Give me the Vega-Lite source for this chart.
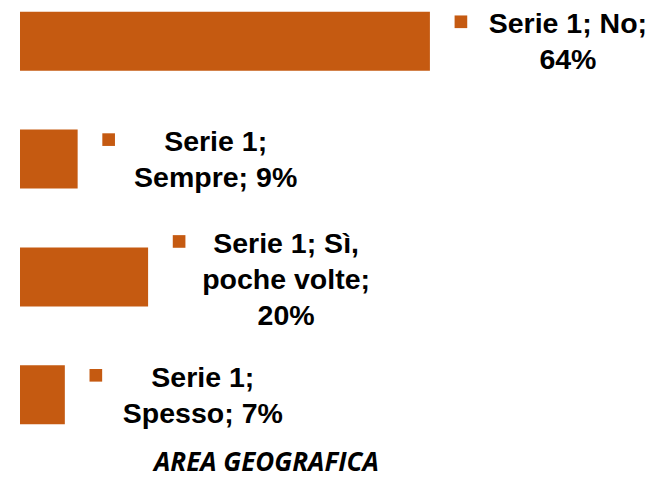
{
  "$schema": "https://vega.github.io/schema/vega-lite/v6.json",
  "width": 636,
  "height": 436,
  "autosize": {"type": "none"},
  "padding": {"left": 20, "top": 0, "right": 0, "bottom": 45},
  "background": "white",
  "view": {"stroke": null},
  "title": {
    "text": "AREA GEOGRAFICA",
    "orient": "bottom",
    "anchor": "start",
    "dx": 134,
    "offset": 14,
    "font": "Open Sans",
    "fontSize": 26,
    "fontWeight": "bold",
    "fontStyle": "italic",
    "color": "black"
  },
  "data": {
    "values": [
      {"cat": "No", "value": 64, "label": "Serie 1; No;\n64%"},
      {"cat": "Sempre", "value": 9, "label": "Serie 1;\nSempre; 9%"},
      {"cat": "Sì, poche volte", "value": 20, "label": "Serie 1; Sì,\npoche volte;\n20%"},
      {"cat": "Spesso", "value": 7, "label": "Serie 1;\nSpesso; 7%"}
    ]
  },
  "encoding": {
    "y": {
      "field": "cat",
      "type": "nominal",
      "sort": ["No", "Sempre", "Sì, poche volte", "Spesso"],
      "scale": {"paddingInner": 0.5, "paddingOuter": 0.1},
      "axis": null
    },
    "x": {
      "field": "value",
      "type": "quantitative",
      "scale": {"domain": [0, 99.3], "nice": false},
      "axis": null
    }
  },
  "layer": [
    {"mark": {"type": "bar", "color": "#C55A11"}},
    {
      "transform": [{"filter": "datum.cat != 'Sì, poche volte'"}],
      "mark": {
        "type": "text",
        "dx": 138,
        "dy": -17,
        "align": "center",
        "baseline": "middle",
        "lineBreak": "\n",
        "lineHeight": 36,
        "font": "Liberation Sans",
        "fontSize": 28.5,
        "fontWeight": "bold",
        "color": "black"
      },
      "encoding": {"text": {"field": "label"}}
    },
    {
      "transform": [{"filter": "datum.cat == 'Sì, poche volte'"}],
      "mark": {
        "type": "text",
        "dx": 138,
        "dy": -33,
        "align": "center",
        "baseline": "middle",
        "lineBreak": "\n",
        "lineHeight": 36,
        "font": "Liberation Sans",
        "fontSize": 28.5,
        "fontWeight": "bold",
        "color": "black"
      },
      "encoding": {"text": {"field": "label"}}
    },
    {
      "transform": [{"filter": "datum.cat != 'Sì, poche volte'"}],
      "mark": {"type": "point", "shape": "square", "filled": true, "size": 160, "color": "#C55A11", "opacity": 1},
      "encoding": {"xOffset": {"value": 31}, "yOffset": {"value": 10}}
    },
    {
      "transform": [{"filter": "datum.cat == 'Sì, poche volte'"}],
      "mark": {"type": "point", "shape": "square", "filled": true, "size": 160, "color": "#C55A11", "opacity": 1},
      "encoding": {"xOffset": {"value": 31}, "yOffset": {"value": -6}}
    }
  ]
}
